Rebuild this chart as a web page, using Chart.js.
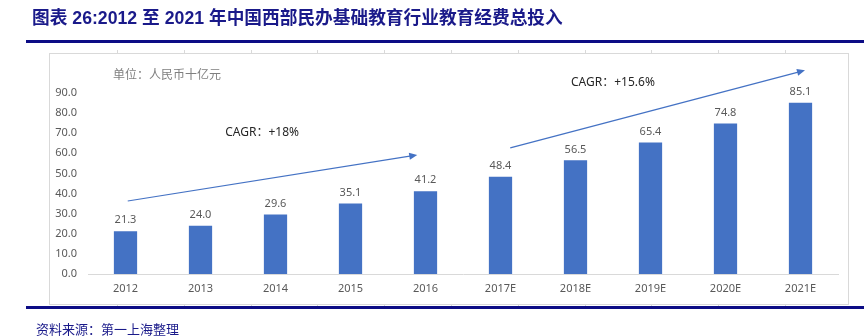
<!DOCTYPE html>
<html>
<head>
    <title>西部民办基础教育经费</title>
    <script src="https://cdn.jsdelivr.net/npm/chart.js"></script>
    <style>
        html, body { margin: 0; padding: 0; background: #fff; }
        #wrap { width: 864px; height: 336px; position: relative; }
    </style>
</head>
<body>
    <div id="wrap"><canvas id="edu-chart" width="864" height="336"></canvas></div>

    <script>
        const years = ['2012', '2013', '2014', '2015', '2016', '2017E', '2018E', '2019E', '2020E', '2021E'];
        const spending = [21.3, 24.0, 29.6, 35.1, 41.2, 48.4, 56.5, 65.4, 74.8, 85.1];
        const yTicks = [0, 10, 20, 30, 40, 50, 60, 70, 80, 90];

        // growth arrows, in (category index, value) units
        const arrows = [
            { from: [0.03, 36.3], to: [3.89, 59.2], text: 'CAGR：+18%', at: [1.33, 70.2] },
            { from: [5.13, 62.7], to: [9.06, 101.3], text: 'CAGR：+15.6%', at: [5.94, 95.0] }
        ];

        const blue = '#4472C4';
        const gray = '#595959';
        const font = '"Noto Sans", "Noto Sans CJK SC", sans-serif';

        const decorations = {
            id: 'decorations',
            beforeDraw(chart) {
                const ctx = chart.ctx;
                ctx.save();
                // title
                ctx.fillStyle = '#1a1a8a';
                ctx.font = 'bold 17.7px "Liberation Sans", "Noto Sans CJK SC", sans-serif';
                ctx.textBaseline = 'middle';
                ctx.fillText('图表 26:2012 至 2021 年中国西部民办基础教育行业教育经费总投入', 32, 19);

                // gray frame
                ctx.strokeStyle = '#d9d9d9';
                ctx.lineWidth = 1;
                ctx.strokeRect(49.5, 53.5, 799, 251);
                for (let x = 117; x < 849; x += 66.8) {
                    const px = Math.round(x) + 0.5;
                    ctx.beginPath();
                    ctx.moveTo(px, 50); ctx.lineTo(px, 54);
                    ctx.moveTo(px, 304); ctx.lineTo(px, 308);
                    ctx.stroke();
                }

                // navy rules
                ctx.fillStyle = '#0c0c85';
                ctx.fillRect(26, 40, 838, 3);
                ctx.fillRect(26, 306, 838, 3);

                // unit
                ctx.fillStyle = '#7f7f7f';
                ctx.font = '12px "Noto Sans CJK SC", sans-serif';
                ctx.fillText('单位：人民币十亿元', 113, 74);

                // source
                ctx.fillStyle = '#1a1a8a';
                ctx.font = '13px "Noto Sans CJK SC", serif';
                ctx.fillText('资料来源：第一上海整理', 36, 329);
                ctx.restore();
            },
            afterDatasetsDraw(chart) {
                const ctx = chart.ctx;
                const xs = chart.scales.x, ys = chart.scales.y;
                const meta = chart.getDatasetMeta(0);
                ctx.save();
                // value labels
                ctx.fillStyle = gray;
                ctx.font = '11px ' + font;
                ctx.textAlign = 'center';
                ctx.textBaseline = 'middle';
                meta.data.forEach((bar, i) => {
                    ctx.fillText(spending[i].toFixed(1), bar.x, bar.y - 11);
                });

                // arrows and CAGR text
                arrows.forEach(a => {
                    const x1 = xs.getPixelForValue(a.from[0]), y1 = ys.getPixelForValue(a.from[1]);
                    const x2 = xs.getPixelForValue(a.to[0]), y2 = ys.getPixelForValue(a.to[1]);
                    const ang = Math.atan2(y2 - y1, x2 - x1);
                    ctx.strokeStyle = blue;
                    ctx.lineWidth = 1.2;
                    ctx.beginPath();
                    ctx.moveTo(x1, y1);
                    ctx.lineTo(x2 - 6 * Math.cos(ang), y2 - 6 * Math.sin(ang));
                    ctx.stroke();
                    ctx.fillStyle = blue;
                    ctx.beginPath();
                    ctx.moveTo(x2, y2);
                    ctx.lineTo(x2 - 8 * Math.cos(ang) + 3.5 * Math.sin(ang), y2 - 8 * Math.sin(ang) - 3.5 * Math.cos(ang));
                    ctx.lineTo(x2 - 8 * Math.cos(ang) - 3.5 * Math.sin(ang), y2 - 8 * Math.sin(ang) + 3.5 * Math.cos(ang));
                    ctx.closePath();
                    ctx.fill();

                    ctx.fillStyle = '#262626';
                    ctx.font = '12px ' + font;
                    ctx.textAlign = 'left';
                    ctx.fillText(a.text, xs.getPixelForValue(a.at[0]), ys.getPixelForValue(a.at[1]));
                    ctx.textAlign = 'center';
                });
                ctx.restore();
            }
        };

        document.addEventListener('DOMContentLoaded', function() {
            const ctx = document.getElementById('edu-chart').getContext('2d');
            new Chart(ctx, {
                type: 'bar',
                data: {
                    labels: years,
                    datasets: [{
                        data: spending,
                        backgroundColor: blue,
                        borderWidth: 0,
                        categoryPercentage: 1,
                        barPercentage: 0.31
                    }]
                },
                options: {
                    responsive: false,
                    animation: false,
                    layout: { padding: { left: 40, right: 26, top: 93, bottom: 32 } },
                    plugins: { legend: { display: false }, tooltip: { enabled: false } },
                    scales: {
                        x: {
                            grid: { display: false, drawTicks: false },
                            border: { color: '#d9d9d9', width: 1 },
                            ticks: { color: gray, font: { family: font, size: 11 }, padding: 8, maxRotation: 0 },
                            afterFit(scale) { scale.height = 30; }
                        },
                        y: {
                            min: 0,
                            max: 90,
                            grid: { display: false, drawTicks: false },
                            border: { display: false },
                            afterBuildTicks(scale) { scale.ticks = yTicks.map(v => ({ value: v })); },
                            ticks: {
                                color: gray,
                                font: { family: font, size: 11 },
                                padding: 11,
                                callback: v => v.toFixed(1)
                            },
                            afterFit(scale) { scale.width = 48; }
                        }
                    }
                },
                plugins: [decorations]
            });
        });
    </script>
</body>
</html>
